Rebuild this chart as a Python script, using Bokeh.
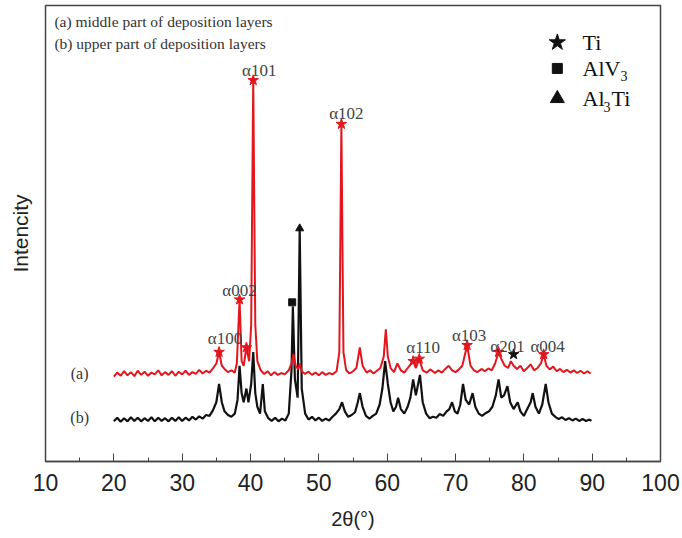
from bokeh.plotting import figure
from bokeh.models import Range1d, SingleIntervalTicker, ColumnDataSource
from bokeh.core.properties import value
from bokeh.embed import file_html
from bokeh.resources import INLINE

# ---- series (a): middle part of deposition layers ----
a_2theta = [20.0, 20.5, 21.0, 21.5, 22.0, 22.5, 23.0, 23.5, 24.0, 24.5, 25.0, 25.5, 26.0, 26.5,
            27.0, 27.5, 28.0, 28.5, 29.0, 29.5, 30.0, 30.5, 31.0, 31.5, 32.0, 32.5, 33.0, 33.5,
            34.0, 34.5, 35.0, 35.4, 35.8, 36.2, 36.7, 37.2, 37.7, 38.0, 38.4, 38.7, 39.0, 39.4,
            39.8, 40.1, 40.4, 40.7, 41.0, 41.5, 42.0, 42.5, 43.0, 43.5, 44.0, 44.5, 45.0, 45.6,
            46.0, 46.3, 46.6, 47.0, 47.2, 47.5, 48.0, 48.5, 49.0, 49.5, 50.0, 50.5, 51.0, 51.5,
            52.0, 52.6, 53.0, 53.3, 53.6, 54.0, 54.5, 55.0, 55.5, 56.0, 56.4, 57.0, 57.5, 58.0,
            58.5, 59.0, 59.5, 59.8, 60.1, 60.5, 61.0, 61.5, 62.0, 62.5, 63.0, 63.8, 64.2, 64.7,
            65.2, 65.8, 66.3, 67.0, 67.5, 68.0, 68.5, 69.0, 69.5, 70.0, 70.5, 71.0, 71.7, 72.2,
            72.7, 73.2, 73.8, 74.3, 74.8, 75.3, 75.8, 76.3, 76.7, 77.2, 77.7, 78.1, 78.5, 79.0,
            79.5, 80.0, 80.5, 81.0, 81.5, 82.0, 82.5, 82.9, 83.3, 83.8, 84.3, 84.8, 85.3, 85.8,
            86.3, 86.8, 87.3, 87.8, 88.3, 88.8, 89.3, 89.8]
a_int = [18.6, 19.5, 18.8, 19.8, 18.9, 19.6, 18.7, 19.9, 19.0, 19.7, 18.8, 19.5, 19.1, 20.0,
         18.9, 19.6, 19.0, 19.8, 18.8, 19.7, 19.1, 19.9, 19.0, 19.6, 19.2, 20.1, 19.3, 19.9,
         19.5, 20.4, 21.5, 24.0, 21.0, 20.3, 19.6, 20.0, 19.5, 21.5, 35.5, 22.0, 21.0, 25.0,
         22.0, 30.0, 83.6, 30.0, 22.0, 20.0, 19.2, 19.8, 18.9, 19.6, 19.0, 19.4, 19.1, 20.0,
         21.5, 23.5, 21.0, 20.2, 21.5, 19.8, 19.2, 19.7, 19.0, 19.5, 18.9, 19.6, 19.0, 19.4,
         19.1, 19.8, 24.0, 74.0, 24.0, 20.0, 19.3, 19.8, 20.5, 25.0, 21.0, 19.5, 20.0, 19.3,
         19.9, 20.5, 23.0, 29.0, 23.0, 20.5, 19.6, 21.5, 20.0, 19.5, 20.5, 22.0, 20.5, 22.5,
         20.0, 19.5, 20.2, 19.4, 20.0, 19.5, 20.3, 21.0, 20.0, 19.6, 20.2, 21.0, 25.5, 21.0,
         20.0, 19.6, 20.3, 19.8, 20.4, 20.0, 21.5, 24.0, 22.5, 21.0, 20.5, 22.0, 21.0, 20.3,
         21.0, 19.8, 20.5, 21.3, 20.0, 20.5, 21.5, 23.5, 21.0, 20.2, 20.8, 19.8, 20.3, 19.6,
         20.1, 19.5, 20.0, 19.4, 19.9, 19.3, 19.8, 19.3]

# ---- series (b): upper part of deposition layers ----
b_2theta = [20.0, 20.5, 21.0, 21.5, 22.0, 22.5, 23.0, 23.5, 24.0, 24.5, 25.0, 25.5, 26.0, 26.5,
            27.0, 27.5, 28.0, 28.5, 29.0, 29.5, 30.0, 30.5, 31.0, 31.5, 32.0, 32.5, 33.0, 33.5,
            34.0, 34.5, 35.0, 35.4, 35.8, 36.2, 36.7, 37.2, 37.7, 38.1, 38.4, 38.7, 39.0, 39.4,
            39.7, 40.1, 40.4, 40.7, 41.0, 41.4, 41.8, 42.1, 42.6, 43.1, 43.6, 44.1, 44.6, 45.1,
            45.6, 46.0, 46.2, 46.5, 46.9, 47.2, 47.5, 48.0, 48.5, 49.0, 49.5, 50.0, 50.5, 51.0,
            51.5, 52.0, 52.5, 53.0, 53.4, 53.8, 54.3, 54.8, 55.3, 55.7, 56.0, 56.4, 56.9, 57.4,
            57.9, 58.4, 58.9, 59.3, 59.7, 60.1, 60.5, 60.9, 61.3, 61.6, 62.0, 62.5, 63.0, 63.4,
            63.8, 64.2, 64.8, 65.2, 65.7, 66.2, 66.7, 67.2, 67.7, 68.2, 68.7, 69.1, 69.5, 69.9,
            70.3, 70.7, 71.1, 71.5, 72.0, 72.5, 72.9, 73.4, 73.9, 74.4, 74.9, 75.4, 75.9, 76.3,
            76.7, 77.1, 77.6, 78.0, 78.5, 79.1, 79.5, 80.0, 80.5, 81.0, 81.3, 81.7, 82.2, 82.7,
            83.2, 83.6, 84.1, 84.6, 85.1, 85.6, 86.1, 86.6, 87.1, 87.6, 88.1, 88.6, 89.1, 89.6,
            89.9]
b_int = [8.8, 9.6, 8.7, 9.5, 8.8, 9.7, 8.9, 9.6, 8.8, 9.5, 8.9, 9.7, 8.8, 9.6,
         8.9, 9.5, 8.8, 9.6, 8.9, 9.7, 8.9, 9.6, 9.0, 9.8, 9.2, 9.9, 9.4, 10.2,
         10.0, 11.2, 13.0, 17.0, 13.0, 11.0, 10.2, 9.8, 10.5, 13.5, 21.0, 15.0, 13.0, 16.0,
         13.0, 17.0, 24.0, 15.0, 12.0, 10.5, 17.0, 11.0, 9.5, 8.9, 9.6, 8.8, 9.4, 9.0,
         10.5, 20.0, 34.0, 18.0, 14.0, 51.0, 16.0, 10.5, 9.2, 9.8, 9.0, 9.6, 8.9, 9.4,
         9.0, 9.8, 10.5, 11.5, 13.0, 11.0, 9.8, 10.2, 10.8, 13.0, 15.0, 12.0, 10.0, 9.4,
         10.0, 10.5, 12.5, 16.0, 22.0, 17.0, 13.0, 11.0, 12.0, 14.0, 11.5, 10.5, 12.0, 14.0,
         18.0, 14.5, 19.0, 13.0, 10.5, 9.5, 9.8, 9.6, 10.4, 10.0, 11.0, 11.5, 13.0, 11.0,
         10.5, 12.5, 17.0, 13.5, 12.5, 15.0, 12.0, 10.5, 10.0, 10.6, 11.0, 12.0, 14.5, 18.0,
         14.0, 14.5, 16.5, 13.0, 11.5, 13.0, 11.0, 10.0, 11.5, 13.0, 15.0, 12.0, 10.5, 12.5,
         17.0, 13.0, 10.5, 9.8, 9.3, 9.7, 9.1, 9.5, 9.0, 9.4, 8.9, 9.3, 8.9, 9.2,
         8.9]

# ---- phase markers ----
ti_alpha_2theta = [35.4, 38.4, 39.4, 40.4, 53.3, 63.8, 64.7, 71.7, 76.3, 82.9]
ti_alpha_int = [24.0, 35.5, 25.0, 83.6, 74.0, 22.0, 22.5, 25.5, 24.0, 23.5]
peak_names = ["α100", "α002", "α101", "α102", "α110", "α103", "α201", "α004"]
peak_2theta = [35.4, 38.4, 40.4, 53.3, 63.8, 71.7, 76.3, 82.9]
peak_int = [24.0, 35.5, 83.6, 74.0, 22.0, 25.5, 24.0, 23.5]
peak_dx = [6, 0, 6, 5, 10, 2, 9, 4]
peak_dy = [-14, -9, -10, -11, -14, -10, -6, -8]
ti_2theta, ti_int = [78.5], [23.5]
alv3_2theta, alv3_int = [46.1], [34.9]
al3ti_2theta, al3ti_int = [47.2], [51.1]

x_ticks_interval = 10
serif = value("Liberation Serif")

p = figure(width=682, height=538, x_range=Range1d(10, 100), y_range=Range1d(0, 100),
           output_backend="svg", toolbar_location=None,
           min_border_left=45, min_border_right=22, min_border_top=5, min_border_bottom=77)
p.background_fill_color = "white"
p.border_fill_color = "white"
p.outline_line_color = "#444444"
p.outline_line_width = 1.5
p.xgrid.visible = False
p.ygrid.visible = False

xa = p.xaxis[0]
xa.ticker = SingleIntervalTicker(interval=x_ticks_interval, num_minor_ticks=2)
xa.axis_line_color = "#444444"
xa.axis_line_width = 1.5
xa.major_tick_in = 8
xa.major_tick_out = 0
xa.minor_tick_in = 4
xa.minor_tick_out = 0
xa.major_tick_line_color = "#444444"
xa.minor_tick_line_color = "#444444"
xa.major_label_text_font = "Liberation Sans"
xa.major_label_text_font_size = "23px"
xa.major_label_text_color = "#222222"
xa.major_label_standoff = 12
xa.axis_label = "2θ(°)"
xa.axis_label_text_font = "Liberation Sans"
xa.axis_label_text_font_size = "20px"
xa.axis_label_text_font_style = "normal"
xa.axis_label_text_color = "#222222"
xa.axis_label_standoff = 14

ya = p.yaxis[0]
ya.ticker = []
ya.axis_line_color = None
ya.major_tick_line_color = None
ya.minor_tick_line_color = None
ya.major_label_text_font_size = "0px"
ya.major_label_standoff = 0
ya.axis_label = "Intencity"
ya.axis_label_text_font = "Liberation Sans"
ya.axis_label_text_font_size = "21px"
ya.axis_label_text_font_style = "normal"
ya.axis_label_text_color = "#222222"
ya.axis_label_standoff = 14

# curves
p.line(b_2theta, b_int, line_color="#111111", line_width=2.2)
p.line(a_2theta, a_int, line_color="#e3161e", line_width=2)

# phase markers
p.scatter(ti_alpha_2theta, ti_alpha_int, marker="star", size=11, fill_color="#e3161e",
          line_color="#e3161e")
p.scatter(ti_2theta, ti_int, marker="star", size=11, fill_color="#111111", line_color="#111111")
p.scatter(alv3_2theta, alv3_int, marker="square", size=7, fill_color="#111111", line_color="#111111")
p.scatter(al3ti_2theta, al3ti_int, marker="triangle", size=8, fill_color="#111111", line_color="#111111")

# peak labels
src = ColumnDataSource(dict(x=peak_2theta, y=peak_int, t=peak_names,
                            dx=peak_dx, dy=peak_dy))
p.text(x="x", y="y", text="t", x_offset="dx", y_offset="dy", source=src,
       text_font=serif, text_font_size="17px", text_color="#444444",
       text_align="center", text_baseline="middle")

# curve names
p.text(x=[15, 15], y=[19.3, 9.6], text=["(a)", "(b)"], text_font=serif,
       text_font_size="16px", text_color="#333333", text_align="center", text_baseline="middle")

# top-left description
p.text(x=[11.3, 11.3], y=[96.5, 91.7],
       text=["(a)  middle part of deposition layers", "(b)  upper part of deposition layers"],
       text_font=serif, text_font_size="15.5px", text_color="#333333",
       text_align="left", text_baseline="middle")

# right legend
lx_m, lx_t = 84.9, 88.6
p.scatter([lx_m], [91.9], marker="star", size=17, fill_color="#111111", line_color="#111111")
p.scatter([lx_m], [86.2], marker="square", size=10, fill_color="#111111", line_color="#111111")
p.scatter([lx_m], [79.6], marker="triangle", size=14, fill_color="#111111", line_color="#111111")
p.text(x=[lx_t, lx_t, lx_t], y=[91.9, 86.2, 79.6], text=["Ti", "AlV", "Al"],
       text_font=serif, text_font_size="22px", text_color="#111111",
       text_align="left", text_baseline="middle")
p.text(x=[lx_t, lx_t], y=[86.2, 79.6], text=["3", "3"], x_offset=[38, 21], y_offset=[8, 8],
       text_font=serif, text_font_size="14px", text_color="#111111",
       text_align="left", text_baseline="middle")
p.text(x=[lx_t], y=[79.6], text=["Ti"], x_offset=[29],
       text_font=serif, text_font_size="22px", text_color="#111111",
       text_align="left", text_baseline="middle")

open("out.html", "w").write(file_html(p, INLINE))
